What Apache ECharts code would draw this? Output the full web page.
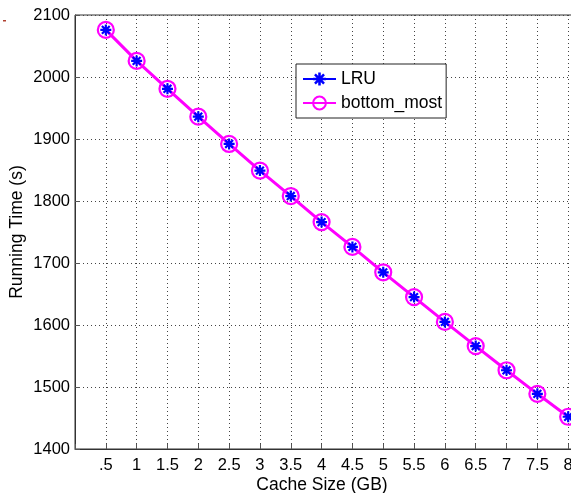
<!DOCTYPE html>
<html><head><meta charset="utf-8">
<script src="https://cdn.jsdelivr.net/npm/echarts@6/dist/echarts.min.js"></script>
<style>html,body{margin:0;padding:0;background:#fff;}#c{width:571px;height:493px;}</style>
</head><body><div id="c"></div>
<script>
const cacheSizes = [0.5, 1, 1.5, 2, 2.5, 3, 3.5, 4, 4.5, 5, 5.5, 6, 6.5, 7, 7.5, 8];
const lruTimes = [2076, 2026, 1981, 1936, 1892, 1849, 1808, 1766, 1726, 1685, 1645, 1605, 1566, 1527, 1489, 1452];
const bottomMostTimes = [2076, 2026, 1981, 1936, 1892, 1849, 1808, 1766, 1726, 1685, 1645, 1605, 1566, 1527, 1489, 1452];
const seriesNames = ['LRU', 'bottom_most'];
const xTitle = 'Cache Size (GB)';
const yTitle = 'Running Time (s)';

const FONT = 'Liberation Sans, Arial, Helvetica, sans-serif';
const asterisk = 'path://M0 8 L20 8 L20 12 L0 12 Z M8 0 L12 0 L12 20 L8 20 Z M1.5 4.3 L4.3 1.5 L18.5 15.7 L15.7 18.5 Z M15.7 1.5 L18.5 4.3 L4.3 18.5 L1.5 15.7 Z';

const chart = echarts.init(document.getElementById('c'), null, {renderer: 'canvas'});
chart.setOption({
  animation: false,
  backgroundColor: '#fff',
  textStyle: {fontFamily: FONT},
  grid: {left: 75, width: 524, top: 15, height: 434, containLabel: false, outerBoundsMode: 'none',
    show: true, borderColor: '#333', borderWidth: 1, backgroundColor: 'transparent'},
  legend: {
    orient: 'vertical', left: 296, top: 64,
    backgroundColor: '#fff', borderColor: '#222', borderWidth: 1,
    padding: [6, 4, 6, 6], itemGap: 6, itemWidth: 33, itemHeight: 16,
    textStyle: {fontFamily: FONT, fontSize: 17.5, color: '#000'},
    data: [
      {name: seriesNames[0], lineStyle: {color: '#0000ff', width: 2, opacity: 1}},
      {name: seriesNames[1]}
    ]
  },
  xAxis: {
    type: 'value', min: 0, max: 8.5, interval: 0.5,
    name: xTitle, nameLocation: 'middle', nameGap: 27, nameMoveOverlap: false,
    nameTextStyle: {fontFamily: FONT, fontSize: 17.5, color: '#000', padding: [0, 30, 0, 0]},
    axisLine: {show: true, lineStyle: {color: '#333', width: 1}},
    axisTick: {show: true, inside: true, length: 5, lineStyle: {color: '#555'}},
    axisLabel: {fontFamily: FONT, fontSize: 16.5, color: '#000', margin: 8, hideOverlap: false,
      formatter: function (v) { if (v === 0 || v > 8.01) return ''; if (v === 0.5) return '.5'; return String(v); }},
    splitLine: {show: true, lineStyle: {color: '#444', width: 1, type: [1, 3]}}
  },
  yAxis: {
    type: 'value', min: 1400, max: 2100, interval: 100,
    name: yTitle, nameLocation: 'middle', nameGap: 49, nameMoveOverlap: false,
    nameTextStyle: {fontFamily: FONT, fontSize: 17.5, color: '#000'},
    axisLine: {show: true, lineStyle: {color: '#333', width: 1}},
    axisTick: {show: true, inside: true, length: 5, lineStyle: {color: '#555'}},
    axisLabel: {fontFamily: FONT, fontSize: 16.5, color: '#000', margin: 5,
      formatter: function (v) { return String(v); }},
    splitLine: {show: true, lineStyle: {color: '#444', width: 1, type: [1, 3]}}
  },
  series: [
    {
      name: seriesNames[0], type: 'line', z: 4,
      data: cacheSizes.map((x, i) => [x, lruTimes[i]]),
      symbol: asterisk, symbolSize: 11, showAllSymbol: true,
      itemStyle: {color: '#0000ff', borderWidth: 0},
      lineStyle: {color: '#0000ff', width: 2, opacity: 0}
    },
    {
      name: seriesNames[1], type: 'line', z: 3,
      data: cacheSizes.map((x, i) => [x, bottomMostTimes[i]]),
      symbol: 'circle', symbolSize: 16, showAllSymbol: true,
      itemStyle: {color: 'rgba(255,255,255,0)', borderColor: '#ff00ff', borderWidth: 2.2},
      lineStyle: {color: '#ff00ff', width: 3}
    }
  ],
  graphic: [
    {type: 'rect', shape: {x: 3, y: 20, width: 3, height: 1.5}, style: {fill: '#b04030'}}
  ]
});
</script></body></html>
